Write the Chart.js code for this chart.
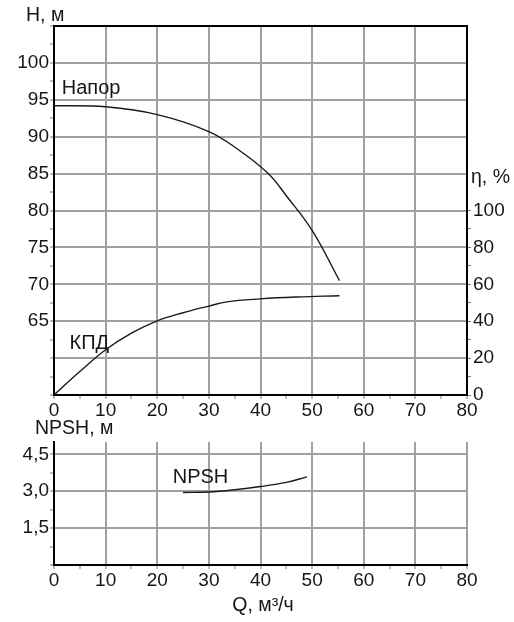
<!DOCTYPE html>
<html>
<head>
<meta charset="utf-8">
<title>Характеристики насоса</title>
<script src="https://cdn.jsdelivr.net/npm/chart.js@4.4.1/dist/chart.umd.min.js"></script>
<style>
  html, body { margin: 0; padding: 0; background: #fff; }
  #wrap { position: relative; width: 514px; height: 622px; overflow: hidden; background: #fff; }
  #wrap canvas { position: absolute; left: 0; }
  #perf { top: 0; }
  #npsh { top: 405px; }
</style>
</head>
<body>
<div id="wrap">
  <canvas id="perf" width="514" height="425"></canvas>
  <canvas id="npsh" width="514" height="217"></canvas>
</div>
<script>
// Axis tick labels
const qTicks = [0, 10, 20, 30, 40, 50, 60, 70, 80];          // Q, м³/ч
const headTicks = [65, 70, 75, 80, 85, 90, 95, 100];          // H, м
const etaTicks = [0, 20, 40, 60, 80, 100];                    // η, %
const npshTicks = [1.5, 3.0, 4.5];                            // NPSH, м

// Head curve (Напор)
const headQ = [0, 10, 20, 30, 36, 41.5, 45, 50, 55.3];
const headH = [94.2, 94.05, 93.0, 90.7, 88.1, 85.0, 82.0, 77.3, 70.5];

// Efficiency curve (КПД)
const effQ = [0, 5, 10, 15, 20, 25, 30, 33.5, 40, 47, 55.3];
const effEta = [0, 12.7, 24.5, 33.5, 40.2, 44.6, 48.2, 50.5, 52.1, 53.1, 53.8];

// Required NPSH curve
const npshQ = [25, 30, 35, 40, 45, 49];
const npshM = [2.95, 2.97, 3.06, 3.19, 3.36, 3.58];

const FONT = "'Liberation Sans', Arial, Helvetica, sans-serif";
const INK = '#161616';
const GRID = '#a0a0a0';
const TICKMARK = '#7a7a7a';
const CLEAR = 'rgba(0,0,0,0)';
const CURVE = '#1a1a1a';

const toPoints = (xs, ys) => xs.map((x, i) => ({ x: x, y: ys[i] }));
const near = (a, b) => Math.abs(a - b) < 1e-6;
const inList = (list, v) => list.some(t => near(t, v));

// major ticks plus the minor ones halfway between them
function withMinor(major) {
  const out = [];
  for (let i = 0; i < major.length; i++) {
    out.push(major[i]);
    if (i < major.length - 1) out.push((major[i] + major[i + 1]) / 2);
  }
  return out;
}
function setTicks(values) {
  return scale => { scale.ticks = values.map(v => ({ value: v })); };
}

const tickFont = { family: FONT, size: 19, lineHeight: 1 };

function curve(label, xs, ys, axis) {
  return {
    label: label,
    data: toPoints(xs, ys),
    yAxisID: axis,
    borderColor: CURVE,
    borderWidth: 1.4,
    pointRadius: 0,
    tension: 0.4,
    fill: false
  };
}

function xScale(gridAt, height) {
  return {
    type: 'linear',
    position: 'bottom',
    min: qTicks[0],
    max: qTicks[qTicks.length - 1],
    afterBuildTicks: setTicks(withMinor(qTicks)),
    afterFit: s => { s.height = height; },
    border: { display: true, color: '#000', width: 2 },
    grid: {
      lineWidth: 2,
      color: c => (c.tick && gridAt(c.tick.value)) ? GRID : CLEAR,
      drawTicks: true,
      tickLength: 4,
      tickWidth: 1,
      tickColor: TICKMARK
    },
    ticks: {
      autoSkip: false,
      maxRotation: 0,
      padding: 2,
      color: INK,
      font: tickFont,
      callback: v => inList(qTicks, v) ? String(v) : ''
    }
  };
}

function textAt(ctx, str, x, y, align, size) {
  ctx.save();
  ctx.font = (size || 19) + 'px ' + FONT;
  ctx.fillStyle = INK;
  ctx.textAlign = align || 'left';
  ctx.textBaseline = 'middle';
  ctx.fillText(str, x, y);
  ctx.restore();
}

// ---------- Head and efficiency ----------
const headBottom = 55, headTop = 105;
const headAll = [];
for (let v = headBottom; v <= headTop + 1e-9; v += 2.5) headAll.push(v);

const perfDecor = {
  id: 'perfDecor',
  afterDraw(chart) {
    const { ctx, chartArea: a, scales } = chart;
    // frame line along the top edge
    ctx.save();
    ctx.strokeStyle = '#000';
    ctx.lineWidth = 2;
    ctx.beginPath();
    ctx.moveTo(a.left - 1, a.top);
    ctx.lineTo(a.right + 1, a.top);
    ctx.stroke();
    ctx.restore();

    textAt(ctx, 'H, м', 26, 16, 'left', 19.5);
    textAt(ctx, 'η, %', 471, 178, 'left', 19.5);

    const x = scales.x, yH = scales.yH, yE = scales.yEta;
    textAt(ctx, 'Напор', x.getPixelForValue(1.5), yH.getPixelForValue(96.6), 'left', 20);
    textAt(ctx, 'КПД', x.getPixelForValue(3), yE.getPixelForValue(28), 'left', 20);
  }
};

new Chart(document.getElementById('perf'), {
  type: 'line',
  data: {
    datasets: [
      curve('Напор', headQ, headH, 'yH'),
      curve('КПД', effQ, effEta, 'yEta')
    ]
  },
  options: {
    responsive: false,
    animation: false,
    events: [],
    layout: { padding: { top: 26, left: 0, right: 0, bottom: 0 } },
    plugins: { legend: { display: false }, tooltip: { enabled: false } },
    scales: {
      x: xScale(v => near(v % 10, 0) && v > 0 && v < 80, 30),
      yH: {
        type: 'linear',
        position: 'left',
        min: headBottom,
        max: headTop,
        afterBuildTicks: setTicks(headAll),
        afterFit: s => { s.width = 54; },
        border: { display: true, color: '#000', width: 2 },
        grid: {
          lineWidth: 2,
          color: c => (c.tick && near(c.tick.value % 5, 0) && c.tick.value > headBottom && c.tick.value < headTop) ? GRID : CLEAR,
          drawTicks: true,
          tickLength: 4,
          tickWidth: 1,
          tickColor: TICKMARK
        },
        ticks: {
          autoSkip: false,
          padding: 1,
          color: INK,
          font: tickFont,
          callback: v => inList(headTicks, v) ? String(v) : ''
        }
      },
      yEta: {
        type: 'linear',
        position: 'right',
        min: 0,
        max: 200,
        afterBuildTicks: setTicks(withMinor(etaTicks)),
        afterFit: s => { s.width = 47; },
        border: { display: true, color: '#000', width: 2 },
        grid: {
          drawOnChartArea: false,
          drawTicks: true,
          tickLength: 4,
          tickWidth: 1,
          tickColor: TICKMARK
        },
        ticks: {
          autoSkip: false,
          padding: 2,
          color: INK,
          font: tickFont,
          callback: v => inList(etaTicks, v) ? String(v) : ''
        }
      }
    }
  },
  plugins: [perfDecor]
});

// ---------- NPSH ----------
const npshTop = 5;
const npshAll = withMinor([0].concat(npshTicks));

const npshDecor = {
  id: 'npshDecor',
  afterDraw(chart) {
    const { ctx, scales } = chart;
    textAt(ctx, 'NPSH, м', 35, 24, 'left', 19.5);
    textAt(ctx, 'Q, м³/ч', 263, 201, 'center', 19.5);
    textAt(ctx, 'NPSH', scales.x.getPixelForValue(23), scales.yN.getPixelForValue(3.55), 'left', 20);
  }
};

new Chart(document.getElementById('npsh'), {
  type: 'line',
  data: {
    datasets: [
      curve('NPSH', npshQ, npshM, 'yN')
    ]
  },
  options: {
    responsive: false,
    animation: false,
    events: [],
    layout: { padding: { top: 37, left: 0, right: 47, bottom: 0 } },
    plugins: { legend: { display: false }, tooltip: { enabled: false } },
    scales: {
      x: xScale(v => near(v % 10, 0) && v > 0, 57),
      yN: {
        type: 'linear',
        position: 'left',
        min: 0,
        max: npshTop,
        afterBuildTicks: setTicks(npshAll),
        afterFit: s => { s.width = 54; },
        border: { display: true, color: '#000', width: 2 },
        grid: {
          lineWidth: 2,
          color: c => (c.tick && inList(npshTicks, c.tick.value)) ? GRID : CLEAR,
          drawTicks: true,
          tickLength: 4,
          tickWidth: 1,
          tickColor: TICKMARK
        },
        ticks: {
          autoSkip: false,
          padding: 1,
          color: INK,
          font: tickFont,
          callback: v => inList(npshTicks, v) ? v.toFixed(1).replace('.', ',') : ''
        }
      }
    }
  },
  plugins: [npshDecor]
});
</script>
</body>
</html>
